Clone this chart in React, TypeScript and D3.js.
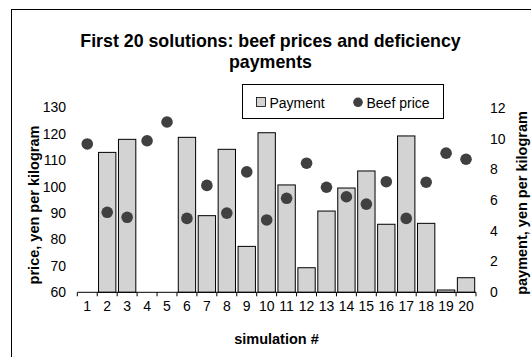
import React from "react";
import * as d3 from "d3";

const categories = ["1","2","3","4","5","6","7","8","9","10","11","12","13","14","15","16","17","18","19","20"];
const payment = [0, 9.11, 9.96, 0, 0, 10.09, 4.99, 9.31, 2.99, 10.39, 6.99, 1.6, 5.29, 6.79, 7.9, 4.43, 10.18, 4.49, 0.15, 0.95];
const beefPrice = [116.2, 90.3, 88.4, 117.4, 124.5, 88.0, 100.5, 90.0, 105.6, 87.4, 95.6, 108.9, 99.8, 96.2, 93.4, 101.9, 88.0, 101.7, 112.7, 110.4];
const leftTicks = [60, 70, 80, 90, 100, 110, 120, 130];
const rightTicks = [0, 2, 4, 6, 8, 10, 12];
const titleLines = ["First 20 solutions: beef prices and deficiency", "payments"];

const FONT = "'Liberation Sans', Arial, sans-serif";
const BAR_FILL = "#d3d3d3";
const DOT_FILL = "#404040";

export default function App() {
  const W = 531, H = 357;
  const x = d3.scaleBand<string>().domain(categories).range([77.3, 476]).paddingInner(0).paddingOuter(0);
  const yL = d3.scaleLinear().domain([60, 130]).range([292.3, 107.5]);
  const yR = d3.scaleLinear().domain([0, 12]).range([292.3, 108]);
  const bw = x.bandwidth();
  const barW = bw * 0.87;
  const baseY = yR(0);
  const boundaries = d3.range(categories.length + 1).map((i) => 77.3 + i * bw);

  return (
    <svg width={W} height={H} style={{ position: "absolute", left: 0, top: 0, background: "#fff" }} fontFamily={FONT}>
      <rect x={0} y={0} width={W} height={H} fill="#fff" />
      <rect x={11.5} y={9.5} width={700} height={500} fill="none" stroke="#000" strokeWidth={1} />
      {/* title */}
      <text x={270.5} y={47} textAnchor="middle" fontSize={17.8} fontWeight="bold" fill="#000">{titleLines[0]}</text>
      <text x={270.5} y={68} textAnchor="middle" fontSize={17.8} fontWeight="bold" fill="#000">{titleLines[1]}</text>

      {/* bars */}
      {payment.map((v, i) => {
        if (v <= 0) return null;
        const cx = (x(categories[i]) as number) + bw / 2;
        return (
          <rect key={"b" + i} x={cx - barW / 2} y={yR(v)} width={barW} height={baseY - yR(v)} fill={BAR_FILL} stroke="#000" strokeWidth={1} />
        );
      })}

      {/* x axis */}
      <line x1={77.3} x2={476} y1={baseY} y2={baseY} stroke="#000" strokeWidth={1} />
      {boundaries.map((bx, i) => (
        <line key={"t" + i} x1={bx} x2={bx} y1={baseY} y2={baseY + 4} stroke="#000" strokeWidth={1} />
      ))}
      {categories.map((c) => (
        <text key={"xl" + c} x={(x(c) as number) + bw / 2} y={311} textAnchor="middle" fontSize={14} fill="#000">{c}</text>
      ))}
      <text x={276.5} y={344} textAnchor="middle" fontSize={14.5} fontWeight="bold" fill="#000">simulation #</text>

      {/* left axis labels */}
      {leftTicks.map((t) => (
        <text key={"yl" + t} x={66} y={yL(t)} dy="0.35em" textAnchor="end" fontSize={14} fill="#000">{t}</text>
      ))}
      <text transform={`translate(38.5,205) rotate(-90)`} textAnchor="middle" fontSize={14.5} fontWeight="bold" fill="#000">price, yen per kilogram</text>

      {/* right axis labels */}
      {rightTicks.map((t) => (
        <text key={"yr" + t} x={490} y={yR(t)} dy="0.35em" textAnchor="start" fontSize={14} fill="#000">{t}</text>
      ))}
      <text transform={`translate(526.5,203) rotate(-90)`} textAnchor="middle" fontSize={14.5} fontWeight="bold" fill="#000">payment, yen per kilogram</text>

      {/* dots */}
      {beefPrice.map((v, i) => (
        <circle key={"d" + i} cx={(x(categories[i]) as number) + bw / 2} cy={yL(v)} r={5.8} fill={DOT_FILL} />
      ))}

      {/* legend */}
      <rect x={242.5} y={84.5} width={201} height={34} fill="#fff" stroke="#000" strokeWidth={1} />
      <rect x={256.5} y={97.5} width={9} height={9} fill={BAR_FILL} stroke="#000" strokeWidth={0.8} />
      <text x={269.5} y={107.5} fontSize={14} fill="#000">Payment</text>
      <circle cx={358} cy={102.3} r={4.8} fill={DOT_FILL} />
      <text x={366.5} y={107.5} fontSize={14} fill="#000">Beef price</text>
    </svg>
  );
}
